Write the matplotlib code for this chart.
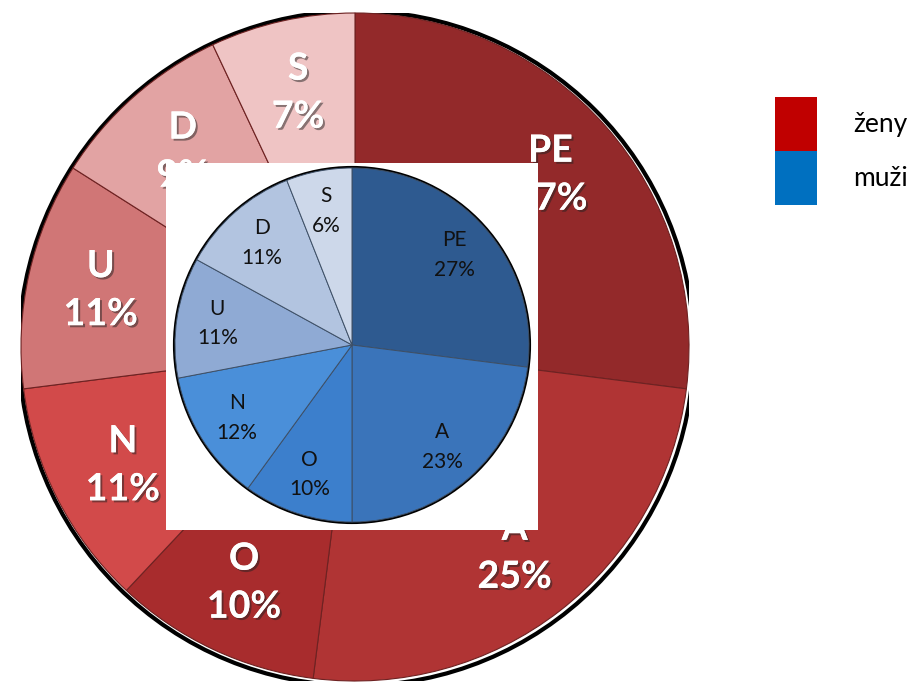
#!/usr/bin/env python3
import matplotlib
matplotlib.use('Agg')
import matplotlib.pyplot as plt
import matplotlib.patheffects as pe
from matplotlib.patches import Rectangle, Circle, Patch

plt.rcParams['font.family'] = ['Lato', 'DejaVu Sans']

categories = ['PE', 'A', 'O', 'N', 'U', 'D', 'S']
zeny = [27, 25, 10, 11, 11, 9, 7]
muzi = [27, 23, 10, 12, 11, 11, 6]
series_names = ['ženy', 'muži']

red_shades = ['#93292a', '#b03434', '#a82c2d', '#d24a4a', '#d07676', '#e2a3a3', '#efc4c4']
blue_shades = ['#2e5a90', '#3a74ba', '#3c7fcc', '#4a8fd9', '#8faad4', '#b2c4e0', '#cdd8ea']


def make_labels(values):
    return ['%s\n%d%%' % (c, v) for c, v in zip(categories, values)]


fig = plt.figure(figsize=(9.12, 6.9), dpi=100, facecolor='w')
ax = fig.add_axes([21/912, 9/690, 668/912, 668/690])

# outer pie (zeny)
ax.add_patch(Circle((0.004, -0.004), 1.01, facecolor='none', edgecolor='black', linewidth=3, zorder=0))
wedges, texts = ax.pie(zeny, labels=make_labels(zeny), colors=red_shades, startangle=90,
                       counterclock=False, radius=1.0, labeldistance=0.78,
                       wedgeprops=dict(edgecolor='#6e2222', linewidth=0.8),
                       textprops=dict(color='white', fontsize=27, fontweight='bold',
                                      ha='center', va='center', linespacing=1.5))
for t in texts:
    t.set_path_effects([pe.withSimplePatchShadow(offset=(1.5, -1.5), shadow_rgbFace='#222222', alpha=0.5),
                        pe.Normal()])

# white box behind the inner pie
ax.add_patch(Rectangle((-0.566, -0.548), 1.114, 1.099, facecolor='white', edgecolor='none', zorder=5))

# inner pie (muzi)
inner_center = (-0.009, 0.006)
ax.add_patch(Circle(inner_center, 0.532, facecolor='none', edgecolor='black', linewidth=2, zorder=6))
wedges2, texts2 = ax.pie(muzi, labels=make_labels(muzi), colors=blue_shades, startangle=90,
                         counterclock=False, radius=0.53, center=inner_center, labeldistance=0.77,
                         wedgeprops=dict(edgecolor='#3d4f66', linewidth=0.7),
                         textprops=dict(color='#111111', fontsize=15,
                                        ha='center', va='center', linespacing=1.6))
for w in wedges2:
    w.set_zorder(7)
for t in texts2:
    t.set_zorder(8)

ax.set_xlim(-1, 1)
ax.set_ylim(-1, 1)
ax.axis('off')

handles = [Patch(facecolor='#c00000', edgecolor='none'), Patch(facecolor='#0070c0', edgecolor='none')]
fig.legend(handles, series_names, loc='upper left', bbox_to_anchor=(775/912, 1 - 97/690),
           frameon=False, fontsize=19, handleheight=2.77, handlelength=1.59,
           handletextpad=1.36, labelspacing=0, borderpad=0, borderaxespad=0)

plt.savefig('out.png', dpi=100, facecolor='w')
